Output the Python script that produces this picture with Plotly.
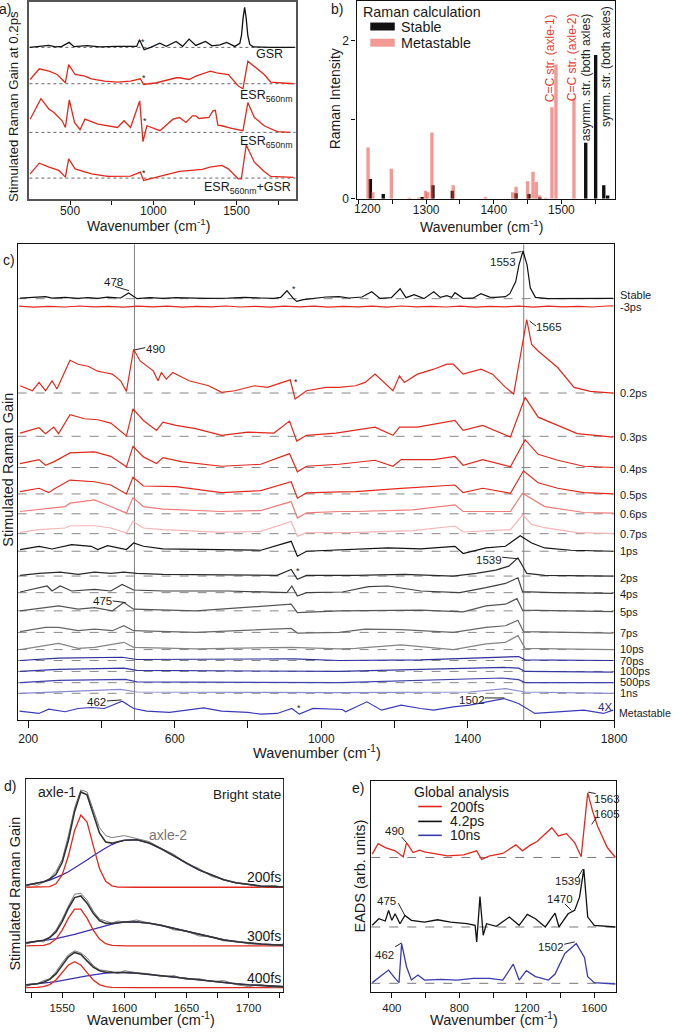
import plotly.graph_objects as go

W, H = 685, 1036
FONT = "Liberation Sans, Arial, Helvetica, sans-serif"
TXT = "#1a1a1a"
RED = "#e3281b"

# ================= DATA =================
# ---- panel a: spectra at 0.2 ps (wavenumber, gain) ----
A_NAMES = ["GSR", "ESR560nm", "ESR650nm", "ESR560nm+GSR"]
A_GSR = [(258, 0), (313, 1.3), (372, 2), (411, 0.5), (450, 1), (494, 5), (523, 0.7), (602, 1.7), (680, 0.5),
         (778, 1), (876, 0.5), (900, 1), (917, 7.7), (945, -2.3), (984, 0), (1039, 4.3), (1078, 1), (1137, 6),
         (1176, 1), (1215, 8.3), (1255, 2), (1314, 6), (1353, 1.5), (1400, 2.5), (1441, 5), (1490, 1),
         (1520, 4), (1530, 12), (1540, 30), (1549, 40.3), (1558, 30), (1568, 12), (1580, 3), (1600, 0.5),
         (1700, 0), (1850, 0)]
A_ESR560 = [(259.6, 4.3), (314.5, 15), (373.3, 12.7), (422.3, 9.3), (471.4, 1), (491, 19.3), (530, 9.3),
            (588.8, 7.7), (628, 5), (706.5, 2.7), (784.9, 1.7), (863.3, 2.7), (922, 5), (941.7, -0.7),
            (1020, 1), (1138, 6), (1157, 6), (1215, 4.3), (1255.5, 7.7), (1343.8, 12.7), (1380, 11),
            (1451.6, 9.3), (1510.4, -2.3), (1539, -5), (1568.4, 22.7), (1607.6, 17.7), (1666.5, 9.3),
            (1705.7, 1.7), (1843, 0)]
A_ESR650 = [(259.6, 13.3), (324.3, 34), (373.3, 23.3), (402.7, 20), (451.8, 11.7), (471.4, 5), (494.9, 32.7),
            (526.3, 10), (559.6, 2.7), (588.8, 13.3), (667.3, 8.3), (784.9, 5), (824.1, 11.7), (863.3, 5),
            (918.2, 31.7), (937.8, -9.3), (961.4, 6.7), (1039.8, 1.7), (1118.2, 13.3), (1157, 15),
            (1196.7, 10), (1235, 16.7), (1255.5, 16.7), (1274, 14), (1333.9, 15), (1359, 21.7), (1373, 22.3),
            (1388, 7.3), (1411.8, 6.7), (1470.6, 4), (1539, 1.7), (1568.4, 30), (1607.6, 15), (1666.5, 6.7),
            (1745, 0.7), (1823.5, 0)]
A_ESRGSR = [(259.6, 4.3), (314.5, 15), (373.3, 11), (432, 7.7), (471.4, 1), (491, 19.3), (530, 9.3),
            (628, 4.3), (726, 1.7), (863.3, 2), (922, 6), (941.7, -2.3), (1020, 1), (1157.6, 6.7),
            (1294.7, 8.7), (1340, 11), (1411.8, 12.7), (1451, 9.3), (1510.4, -0.7), (1529.2, -0.7),
            (1558.6, 33.3), (1607.6, 16), (1666.5, 6.7), (1705.7, 1.7), (1843, 0.7)]
A_OFFSETS = [152.3, 115.7, 66.7, 20.7]

# ---- panel b: calculated Raman bars ----
B_NAMES = ["Stable", "Metastable"]
B_STABLE_X = [1217.4, 1236.5, 1294, 1310, 1338.7, 1433, 1452, 1468, 1536, 1550.7, 1562.7, 1568.5]
B_STABLE_Y = [0.25, 0.06, 0.02, 0.17, 0.1, 0.07, 0.06, 0.01, 0.71, 1.82, 0.17, 0.04]
B_META_X = [1214, 1221, 1248.5, 1275, 1289, 1299, 1302, 1308.5, 1340, 1387.6, 1428, 1433, 1450, 1458,
            1463, 1468, 1477, 1486, 1492, 1518.6]
B_META_Y = [0.65, 0.08, 0.38, 0.01, 0.015, 0.1, 0.08, 0.84, 0.17, 0.02, 0.08, 0.15, 0.22, 0.34, 0.21,
            0.04, 0.01, 1.16, 1.7, 1.27]
B_MODE_LABELS = ["C=C str. (axle-1)", "C=C str. (axle-2)", "asymm. str. (both axles)", "symm. str. (both axles)"]

# ---- panel c: time-resolved stimulated Raman spectra ----
C_LABELS = ["Stable", "-3ps", "0.2ps", "0.3ps", "0.4ps", "0.5ps", "0.6ps", "0.7ps", "1ps", "2ps", "4ps",
            "5ps", "7ps", "10ps", "70ps", "100ps", "500ps", "1ns", "Metastable"]
C_STABLE = [(177.7, 0.5), (211.6, 1), (229.4, 1.7), (247.2, 2), (265, 0.5), (282.8, 1), (300.7, 1.3),
            (336.3, 0.3), (363, 1), (389.7, 0.3), (416.5, 1.5), (452.1, 0.7), (474, 5.7), (497, 0), (532, 1),
            (567.9, 0.3), (603.5, 1), (657, 0.5), (692.6, 0.2), (746.1, 0.5), (791, 1.3), (835.1, 0.7),
            (870.8, 0.3), (889, 1.3), (906.4, 8), (924.2, 0), (933.1, -2.7), (951, -1), (977.7, 0),
            (1013.3, 1.7), (1048.9, 2), (1075.6, 0.7), (1111.3, 1.7), (1138, 7), (1160.3, 0.3), (1191.5, 1),
            (1215.5, 10), (1231.6, 1), (1253.8, 4), (1280.5, 0), (1307.3, 7), (1325.1, 1.3), (1342.9, 3),
            (1356.3, 1.3), (1365.2, 6), (1387.5, 0.3), (1414, 0.5), (1436, 5), (1460, 1.5), (1476, 1.3),
            (1503, 2), (1515, 5), (1531, 17), (1540, 34), (1551, 48), (1562, 34), (1571, 10.7), (1585, 1.3),
            (1620, 0), (1700, 0.2), (1797, 0.3)]
C_M3PS = [(175, 0.5), (215, -0.5), (255, 0.3), (300, -0.4), (340, 0.6), (380, -0.3), (420, 0.2), (460, -0.6),
          (500, 0.4), (540, -0.2), (580, 0.5), (620, -0.5), (660, 0.3), (700, -0.3), (740, 0.6), (780, -0.4),
          (820, 0.2), (860, -0.5), (900, 0.4), (940, -0.3), (980, 0.5), (1020, -0.6), (1060, 0.3),
          (1100, -0.2), (1140, 0.4), (1180, -0.5), (1220, 0.6), (1260, -0.3), (1300, 0.2), (1340, -0.4),
          (1380, 0.5), (1420, -0.5), (1460, 0.3), (1500, -0.2), (1540, 0.4), (1580, -0.6), (1620, 0.5),
          (1660, -0.3), (1700, 0.2), (1740, -0.4), (1780, 0.6), (1798, 0.8)]
C_02PS = [(177.7, 7.3), (211.6, 2.3), (229.4, 10.7), (247.2, 2.3), (265, 12.3), (278.4, 4), (314, 33),
          (336.3, 29), (363, 27), (389.7, 22), (407.6, 20.7), (429.8, 19), (452.1, 12.3), (468.1, 1.7),
          (487.7, 44), (505.5, 32.3), (541.2, 22.3), (554.5, 12.3), (563.4, 20.7), (576.8, 14), (594.6, 20.7),
          (639.2, 12.3), (692.6, 7.3), (728.2, 0.7), (763.9, 2.3), (817.3, 7.3), (853, 5.7), (897.5, 11.7),
          (915.3, 13.3), (928.7, -6), (959.9, 2.3), (1013.3, 5.7), (1049, 5.7), (1093.5, 7.3), (1120, 10.7),
          (1147, 19), (1196, 2.3), (1213.7, 17.3), (1227, 10.7), (1262.7, 19), (1307.3, 24), (1343, 29),
          (1360.7, 29), (1387.5, 19), (1436.5, 24), (1467.6, 19), (1503.3, 5.7), (1525.5, -1), (1543.4, 35.7),
          (1561.2, 74), (1574.5, 49), (1592.3, 42.3), (1645.8, 25.7), (1690.3, 5.7), (1734.8, 1.7),
          (1797.2, 0)]
C_03PS = [(177.7, 3.3), (229.4, 8.7), (247.2, 2.7), (269.5, 9.3), (282.8, 2.7), (314, 21.7), (354.1, 17.7),
          (389.7, 16.7), (425.4, 13.3), (468.1, 0.3), (486, 27.7), (514.5, 16), (550.1, 6), (567.9, 14.3),
          (603.5, 11), (657, 7.7), (728.2, 1), (799.5, 4.3), (870.8, 3.3), (913.5, 15.3), (933.1, -4.7),
          (959.9, 1), (1040, 3.3), (1093.5, 6), (1146.9, 9.3), (1195.9, 1), (1213.7, 9.3), (1262.7, 9.3),
          (1307.3, 12), (1365.2, 16), (1387.5, 6), (1441, 11), (1516.7, -0.7), (1556.8, 39.3),
          (1592.4, 19.3), (1645.9, 11), (1699.3, 2.7), (1797.3, -0.7)]
C_04PS = [(177.7, 4), (229.4, 8), (247.2, 2.3), (269.5, 5.7), (314, 14.7), (380.8, 15.7), (425.4, 11.3),
          (468.1, 0.7), (486, 21.3), (514.5, 10.7), (550.1, 4), (567.9, 10), (621.3, 5.7), (728.2, 1.3),
          (835.1, 3.3), (913.5, 14), (934.9, -4.3), (959.9, 1.3), (1048.9, 3.3), (1146.9, 7.3), (1195.9, 1.3),
          (1218.2, 8), (1307.3, 8), (1365.2, 11.3), (1387.5, 2.3), (1441, 8), (1516.7, 0.7), (1556.8, 28),
          (1592.4, 13.3), (1645.9, 7.3), (1717.1, 1.3), (1797.3, 0)]
C_05PS = [(177.7, 2.3), (229.4, 5.7), (256.1, 1.3), (269.5, 4.7), (314, 14), (380.8, 12.3), (425.4, 9),
          (468.1, 0), (486, 16.7), (514.5, 8), (603.5, 7.3), (728.2, 1.3), (835.1, 3.3), (918, 12.3),
          (934.9, -4.3), (959.9, 1), (1048.9, 2), (1093.5, 2.3), (1218.2, 5.7), (1365.2, 9), (1387.5, 1.3),
          (1441, 5.7), (1516.7, 0.7), (1552.4, 23.3), (1592.4, 11.3), (1645.9, 5.7), (1717.1, 1.3),
          (1797.3, 0)]
C_06PS = [(177.7, 2.3), (229.4, 4.7), (300.7, 7.3), (314, 10.7), (380.8, 14), (425.4, 7.3), (468.1, 0.7),
          (486, 16.3), (514.5, 7.3), (567.9, 4.7), (728.2, 2.3), (835.1, 3.3), (918, 12.3), (934.9, -4.3),
          (959.9, 1), (1048.9, 2.3), (1093.5, 2.3), (1250, 4), (1365.2, 9), (1387.5, 2.3), (1516.7, 2.3),
          (1549.7, 20.7), (1610.3, 7.3), (1717.1, 1.3), (1797.3, 0.7)]
C_07PS = [(177.7, 1.3), (229.4, 4), (300.7, 5.7), (314, 8), (380.8, 8), (425.4, 5.7), (468.1, 0.7),
          (486, 12.3), (514.5, 5.7), (567.9, 4), (728.2, 1.3), (835.1, 2.3), (918, 12.3), (934.9, -2.7),
          (959.9, 1), (1048.9, 1.3), (1093.5, 1.3), (1250, 3), (1365.2, 7.7), (1387.5, 1.7), (1516.7, 4),
          (1549.7, 19), (1574.6, 9.3), (1610.3, 6), (1699.3, 1), (1797.3, 0)]
C_1PS = [(177.7, 1.7), (229.4, 5), (265, 2.3), (318.5, 6.7), (371.9, 5), (389.7, 1.7), (416.5, 5.7),
         (468.1, 1.7), (487.7, 8.3), (514.5, 5), (567.9, 2.3), (657, 1.7), (835.1, 1), (918, 10), (934.9, -5),
         (959.9, 0), (1057.8, 1.7), (1182.6, 3.3), (1271.6, 2.3), (1365.2, 5), (1387.5, -2.3), (1449.9, 3.3),
         (1503.3, 5), (1543.4, 15.7), (1574.6, 8.3), (1610.3, 3.3), (1681.5, 1), (1797.3, 0)]
C_2PS = [(177.7, 0.7), (229.4, 2.7), (287.3, 4), (336.3, 1.7), (380.8, 4), (425.4, 2.7), (461, 4),
         (496.6, 2.7), (567.9, 1.7), (746.1, 0.7), (879.7, 0.7), (918, 6.7), (934.9, -3.3), (959.9, 0.7),
         (1093.5, 0.7), (1227.1, 1.7), (1360.7, 0), (1423.1, 2.7), (1476.6, 6), (1512.2, 10), (1537.2, 18.3),
         (1561.3, 2.7), (1610.3, 0.7), (1797.3, 0)]
C_4PS = [(177.7, 0.7), (251.7, 6.7), (265, 1.7), (287.3, 6.7), (318.5, 1.7), (380.8, 3.3), (425.4, 1.7),
         (456.5, 8.3), (487.7, 2.7), (567.9, 1.7), (746.1, 1.7), (906.4, 0), (919.8, 6.7), (934.9, -3.3),
         (959.9, 0), (1057.8, 0.7), (1129.1, 6), (1182.6, 6.7), (1271.6, 1.7), (1378.6, 0), (1449.9, 5),
         (1503.3, 9.3), (1537.2, 15), (1549.7, 1), (1632, 0), (1797.3, -0.7)]
C_5PS = [(177.7, 0), (247.2, 3.3), (282.8, 5), (336.3, 1.7), (380.8, 3.3), (429.8, 0), (461, 8.3),
         (487.7, 1.7), (657, 0), (918, 6.7), (934.9, -1.7), (1048.9, 0), (1271.6, 0.7), (1387.5, -1),
         (1449.9, 5), (1503.3, 6.7), (1534.5, 12.3), (1549.7, 0.7), (1797.3, -0.7)]
C_7PS = [(177.7, 0.7), (247.2, 5), (282.8, 5), (336.3, 1.7), (380.8, 3.3), (429.8, 1.7), (461, 6.7),
         (487.7, 1.7), (657, 0), (918, 4), (934.9, -0.7), (1048.9, 0), (1120.2, 3.3), (1218.2, 2.7),
         (1360.7, 0), (1449.9, 5), (1503.3, 6.7), (1537.2, 12.3), (1552.4, 0.7), (1797.3, -0.7)]
C_10PS = [(177.7, 0), (282.8, 6.3), (336.3, 1.3), (380.8, 2.3), (461, 7.3), (487.7, 2.3), (657, 0.7),
          (918, 2.3), (1048.9, 0.7), (1093.5, 1.3), (1218.2, 4.7), (1360.7, 0), (1449.9, 5.7), (1503.3, 7.3),
          (1537.2, 14), (1556.8, 1.3), (1797.3, 0)]
C_70PS = [(177.7, 0), (282.8, 2.3), (456.5, 3.3), (496.6, 1), (924.2, 1.7), (1048.9, 0), (1271.6, 0.7),
          (1503.3, 3.3), (1539, 4), (1556.8, 0.7), (1797.3, 0)]
C_100PS = [(177.7, 0), (282.8, 2), (461, 3.3), (496.6, 1), (1048.9, 0), (1498.8, 4), (1539, 3.3),
           (1556.8, 0), (1797.3, -0.7)]
C_500PS = [(177.7, 0), (282.8, 2.3), (465.5, 3.3), (496.6, 0.7), (1048.9, 0), (1494.4, 4.7), (1539, 3),
           (1556.8, 0), (1797.3, 0)]
C_1NS = [(177.7, 0), (452.1, 4), (496.6, 1.3), (1048.9, 0.7), (1405.3, 1.3), (1503.3, 4.7), (1556.8, 1.3),
         (1797.3, 0)]
C_META = [(176, 3.3), (229, 1), (256, 5.3), (300.7, 2.7), (336, 6), (372, 7), (407.6, 6), (429.8, 9.3),
          (456.5, 13.3), (487.7, 6), (523.4, 3.3), (585.7, 2), (639.2, 4.3), (679.2, 6.7), (728.2, 3.3),
          (799.5, 2), (835, 0.3), (879.7, 1), (919.8, 6), (940.2, 0.3), (977.7, 6), (1057.8, 5),
          (1066.7, 2.7), (1124.7, 12.7), (1164.7, 4.3), (1218.2, 9.3), (1271.6, 6), (1307.3, 4.3),
          (1360.7, 7.7), (1405.3, 9.3), (1498.8, 16), (1538.9, 11), (1583.5, 1), (1645.8, 2.7),
          (1717.1, 4.3), (1770.5, 1), (1797.2, 4.3)]
C_SERIES = [C_STABLE, C_M3PS, C_02PS, C_03PS, C_04PS, C_05PS, C_06PS, C_07PS, C_1PS, C_2PS, C_4PS,
            C_5PS, C_7PS, C_10PS, C_70PS, C_100PS, C_500PS, C_1NS, C_META]
C_OFFSETS = [424.3, 416.3, 329.3, 285.7, 254.3, 227.7, 207.7, 187.7, 170, 145, 128.3, 110, 88.3, 71, 60,
             49, 37.7, 27, 5.7]
C_PEAK_LINES = [490, 1553]

# ---- panel d: bright-state fits ----
D_LABELS = ["200fs", "300fs", "400fs"]
D_W = [1521, 1525, 1530, 1535, 1540, 1545, 1550, 1555, 1560, 1565, 1570, 1575, 1580, 1585, 1590, 1595, 1600,
       1610, 1620, 1630, 1640, 1650, 1660, 1670, 1680, 1690, 1700, 1710, 1720, 1728]
D_RED = [
    [0, 0, 0, 0.1, 0.7, 3.5, 12.5, 31.7, 57.1, 72.8, 65.6, 41.9, 18.9, 6, 1.4, 0.2, 0, 0, 0, 0, 0, 0, 0, 0, 0, 0, 0, 0, 0, 0],
    [0, 0, 0.1, 0.5, 2.2, 6.8, 15.8, 27.9, 37, 37, 27.9, 15.8, 6.8, 2.2, 0.5, 0.1, 0, 0, 0, 0, 0, 0, 0, 0, 0, 0, 0, 0, 0, 0],
    [0, 0, 0.2, 0.9, 3, 7.7, 15.1, 22.7, 26, 22.7, 15.1, 7.7, 3, 0.9, 0.2, 0, 0, 0, 0, 0, 0, 0, 0, 0, 0, 0, 0, 0, 0, 0]]
D_BLUE = [
    [2.1, 2.9, 3.9, 5.4, 7.3, 9.6, 12.4, 15.6, 19.3, 23.2, 27.4, 31.7, 35.8, 39.5, 43, 45.7, 47.3, 47.9, 44.5, 38.5, 31.5, 24, 17.5, 12.5, 7.5, 4.5, 2.5, 1.2, 0.6, 0.3],
    [3, 3.6, 4.3, 5.2, 6.2, 7.3, 8.6, 10, 11.6, 13.3, 15.1, 16.9, 18.7, 20.4, 22, 23.2, 24, 24, 22.8, 20.5, 17.6, 14.4, 11.2, 8.4, 6, 4.2, 2.8, 1.8, 1.1, 0.7],
    [2.7, 3.1, 3.7, 4.4, 5.2, 6.1, 7.1, 8.2, 9.4, 10.6, 11.8, 12.9, 13.9, 14.6, 15.1, 15.3, 15.2, 14.5, 13.4, 12, 10.6, 9.2, 7.7, 6.3, 5, 3.8, 2.8, 2, 1.4, 1]]
D_FIT = [
    [2.1, 2.9, 3.9, 5.5, 8, 13.1, 24.9, 47.3, 76.4, 96, 93, 73.6, 54.7, 45.5, 44.4, 45.9, 47.3, 47.9, 44.5, 38.5, 31.5, 24, 17.5, 12.5, 7.5, 4.5, 2.5, 1.2, 0.6, 0.3],
    [3, 3.6, 4.4, 5.7, 8.4, 14.1, 24.4, 37.9, 48.6, 50.3, 43, 32.7, 25.5, 22.6, 22.5, 23.3, 24, 24, 22.8, 20.5, 17.6, 14.4, 11.2, 8.4, 6, 4.2, 2.8, 1.8, 1.1, 0.7],
    [2.7, 3.1, 3.9, 5.3, 8.2, 13.8, 22.2, 30.9, 35.4, 33.3, 26.9, 20.6, 16.9, 15.5, 15.3, 15.3, 15.2, 14.5, 13.4, 12, 10.6, 9.2, 7.7, 6.3, 5, 3.8, 2.8, 2, 1.4, 1]]
D_DATA = [
    [1, 3, 2, 5, 9, 16, 28, 52, 80, 98, 96, 78, 60, 52, 50, 51, 52, 49, 46, 39, 33, 24, 19, 11, 8, 4, 3, 0, 2, 0],
    [2, 3, 5, 4, 9, 16, 27, 40, 52, 53, 46, 35, 27, 25, 23, 25, 24, 26, 23, 21, 16, 15, 10, 9, 5, 5, 2, 2, 0, 2],
    [1, 3, 4, 7, 9, 16, 25, 33, 37, 35, 30, 22, 18, 17, 16, 14, 17, 15, 14, 11, 12, 8, 9, 6, 7, 3, 1, 3, 0, 1]]
D_OFFSETS = [105, 46, 4]

# ---- panel e: global analysis EADS ----
E_NAMES = ["200fs", "4.2ps", "10ns"]
E_200FS = [(284, 3.3), (318.7, 14), (361.3, 10), (419.3, 6.7), (467.7, 0.7), (487, 15), (525.7, 5),
           (564.4, 7.3), (593.4, 5.7), (651.4, 4), (728.8, 1.7), (825.5, 2.7), (902.9, 6.7), (931.9, -2),
           (980.3, 1.7), (1057.7, 4), (1135.1, 12.7), (1173.8, 6.7), (1222.2, 12.7), (1260.9, 16),
           (1309.2, 23.3), (1347.9, 30), (1386.6, 21.7), (1435, 24), (1483.4, 15), (1522.1, 0.7),
           (1560.8, 65), (1589.8, 46.7), (1618.8, 31.7), (1676.9, 10), (1725.2, 0)]
E_42PS = [(284, 1.7), (322.7, 8.3), (361.3, 6), (380.7, 16.7), (400, 6.7), (419.3, 13.3), (448.3, 3.3),
          (477.4, 11.7), (516.1, 6.7), (593.4, 5), (670.8, 7.3), (748.2, 5), (844.9, 3.3), (893.3, 1.7),
          (902.9, -15), (922.3, 30.7), (941.6, -8.3), (961, 3.3), (1019, 0.7), (1096.4, 10), (1154.4, 1.7),
          (1202.8, 12.7), (1251.2, 8.3), (1309.2, 0), (1367.3, 14), (1390.5, 0), (1444.7, 13.3),
          (1483.4, 16.7), (1512.4, 30), (1537.6, 58.3), (1560.8, 10), (1599.5, 1.7), (1725.2, 0)]
E_10NS = [(284, 0.7), (342, 8.3), (380.7, 13.3), (419.3, 5), (442.5, 0.7), (458, 40), (487, 16.7),
          (516.1, 3.3), (554.8, 8.3), (593.4, 3.3), (690.2, 4), (786.9, 3.3), (883.6, 5), (980.3, 5),
          (1057.7, 3.3), (1119.6, 19.3), (1154.4, 3.3), (1197, 12.7), (1251.2, 6.7), (1328.5, 3.3),
          (1367.3, 9.3), (1425.3, 30), (1493, 40), (1541.4, 26), (1560.8, 6.7), (1599.5, 0.7), (1725.2, -0.7)]
E_SERIES = [E_200FS, E_42PS, E_10NS]
E_OFFSETS = [135, 65, 8.3]

# ================= STYLE / LAYOUT =================
A_COLORS = ["#111111", RED, RED, RED]
B_COLORS = ["#111111", "rgba(232,70,60,0.55)"]
C_COLORS = ["#111111", RED, RED, RED, RED, RED, "#f07b78", "#f7b5b5", "#111111", "#2a2a2a", "#404040",
            "#555555", "#666666", "#858585", "#2e2e99", "#3636a3", "#3f3fad", "#8a8ad0", "#3a3ab8"]
C_LABEL_PY = [297, 309, 395.7, 440, 472, 498, 517.7, 538, 555, 581.7, 598, 615.7, 637, 653, 665, 676, 687,
              698, 717.7]
E_COLORS = [RED, "#111111", "#3b3bb0"]


def xd(a, b):
    return [a / W, b / W]


def yd(top, bottom):
    return [1 - bottom / H, 1 - top / H]


def px(x):
    return x / W


def py(y):
    return 1 - y / H


fig = go.Figure()


def add(series, offset, color, xa, ya, width=1.2, name=None):
    xs = [p[0] for p in series]
    ys = [p[1] + offset for p in series]
    fig.add_trace(go.Scatter(x=xs, y=ys, mode="lines", xaxis=xa, yaxis=ya,
                             line=dict(color=color, width=width),
                             name=name, showlegend=False, hoverinfo="skip"))


# panel a
for s, off, col, nm in zip([A_GSR, A_ESR560, A_ESR650, A_ESRGSR], A_OFFSETS, A_COLORS, A_NAMES):
    add(s, off, col, "x", "y", 1.3, nm)

# panel b bars
for xs, ys, col, nm in zip([B_STABLE_X, B_META_X], [B_STABLE_Y, B_META_Y], B_COLORS, B_NAMES):
    fig.add_trace(go.Bar(x=xs, y=ys, width=5, marker=dict(color=col, line=dict(width=0)),
                         xaxis="x2", yaxis="y2", name=nm, showlegend=False, hoverinfo="skip"))

# panel c
for s, off, col, nm in zip(C_SERIES, C_OFFSETS, C_COLORS, C_LABELS):
    add(s, off, col, "x3", "y3", 1.2, nm)

# panel d
for i in range(3):
    off = D_OFFSETS[i]
    add(list(zip(D_W, D_BLUE[i])), off, "#3a2fb5", "x4", "y4", 1.3)
    add(list(zip(D_W, D_RED[i])), off, RED, "x4", "y4", 1.3)
    add(list(zip(D_W, D_DATA[i])), off, "#7a7a7a", "x4", "y4", 1.0)
    add(list(zip(D_W, D_FIT[i])), off, "#333333", "x4", "y4", 1.6, D_LABELS[i])

# panel e
for s, off, col, nm in zip(E_SERIES, E_OFFSETS, E_COLORS, E_NAMES):
    add(s, off, col, "x5", "y5", 1.3, nm)

# ---- shapes ----
shapes = []
for off in A_OFFSETS:
    shapes.append(dict(type="line", xref="x domain", yref="y", x0=0, x1=1, y0=off, y1=off,
                       line=dict(color="#666", width=1, dash="dot"), layer="below"))
for lab, off in zip(C_LABELS, C_OFFSETS):
    if lab in ("-3ps", "Metastable"):
        continue
    shapes.append(dict(type="line", xref="x3 domain", yref="y3", x0=0, x1=1, y0=off, y1=off,
                       line=dict(color="#888", width=1, dash="dash"), layer="below"))
for v in C_PEAK_LINES:
    shapes.append(dict(type="line", xref="x3", yref="y3 domain", x0=v, x1=v, y0=0, y1=1,
                       line=dict(color="#808080", width=1), layer="below"))
for off in E_OFFSETS:
    shapes.append(dict(type="line", xref="x5 domain", yref="y5", x0=0, x1=1, y0=off, y1=off,
                       line=dict(color="#777", width=1, dash="dash"), layer="below"))

LEADERS = [((117.3, 288.3), (131.7, 292.7)), ((137.3, 352.3), (148.3, 350)), ((521.7, 255), (532.3, 253.3)),
           ((540.7, 323.3), (547.3, 328.3)), ((115, 605), (128.3, 606.7)), ((109.3, 705.7), (124, 704.7)),
           ((512.7, 561), (529.3, 562.7)), ((495, 702.7), (515, 702.7)),
           ((410, 842.7), (415, 848.3)), ((600.5, 797.5), (608, 799)), ((609, 823), (604, 830)),
           ((590, 883.3), (595, 875)), ((576.7, 910), (583.3, 916.7)), ((406.7, 909.3), (413.3, 921.7)),
           ((403.3, 953.3), (410, 949.3)), ((576, 950.7), (586.7, 948.3))]
for (x0, y0), (x1, y1) in LEADERS:
    shapes.append(dict(type="line", xref="paper", yref="paper", x0=px(x0), y0=py(y0), x1=px(x1), y1=py(y1),
                       line=dict(color="#222", width=1)))

# legend swatches (panel b: bars, panel e: lines)
for col, (t, b) in zip(B_COLORS, [(22.7, 30.7), (39, 47)]):
    shapes.append(dict(type="rect", xref="paper", yref="paper", x0=px(378), x1=px(403), y0=py(b), y1=py(t),
                       fillcolor=col, line=dict(width=0)))
E_LEG_PY = [812, 827, 841]
for col, yy in zip(E_COLORS, E_LEG_PY):
    shapes.append(dict(type="line", xref="paper", yref="paper", x0=px(427), x1=px(451), y0=py(yy), y1=py(yy),
                       line=dict(color=col, width=1.6)))


# ---- annotations ----
def ann(text, x, y, size=12, color=TXT, xanchor="center", angle=0):
    return dict(text=text, x=px(x), y=py(y), xref="paper", yref="paper", showarrow=False,
                font=dict(family=FONT, size=size, color=color), xanchor=xanchor, yanchor="middle",
                textangle=angle)


WN = "Wavenumber (cm<sup>-1</sup>)"
anns = [
    ann("a)", 5, 9, 14), ann("b)", 344, 9, 14), ann("c)", 9, 262, 14), ann("d)", 10, 791, 14), ann("e)", 365, 793, 14),
    ann("Stimulated Raman Gain at 0.2ps", 14, 107, 13.2, angle=-90),
    ann(WN, 152, 227, 14), ann(WN, 492, 228, 14), ann(WN, 324, 757, 14.5),
    ann(WN, 154, 1026, 14.5), ann(WN, 504, 1026, 14.5),
    ann("Raman Intensity", 342, 100, 14, angle=-90),
    ann("Stimulated Raman Gain", 8, 473, 14.5, angle=-90),
    ann("Stimulated Raman Gain", 15, 900, 14.5, angle=-90),
    ann("EADS (arb. units)", 368, 882, 14.5, angle=-90),
    # panel a labels
    ann("GSR", 291, 54.5, 12.5, xanchor="right"),
    ann("ESR<sub>560nm</sub>", 300.5, 97, 12.5, xanchor="right"),
    ann("ESR<sub>650nm</sub>", 300.5, 143, 12.5, xanchor="right"),
    ann("ESR<sub>560nm</sub>+GSR", 299.5, 189, 12.5, xanchor="right"),
    ann("*", 146, 42, 9), ann("*", 147, 79, 9), ann("*", 148.5, 122, 9), ann("*", 147, 174.5, 9),
    # panel b: first x tick label sits right of its tick, clear of the "0"
    ann("1200", 375, 210.5, 12),
    # panel b legend
    ann("Raman calculation", 369, 11.7, 14.3, xanchor="left"),
    ann(B_NAMES[0], 407, 26.7, 14.3, xanchor="left"),
    ann(B_NAMES[1], 407, 43, 14.3, xanchor="left"),
    # panel b mode labels
    ann(B_MODE_LABELS[0], 561, 59, 12, color="#e8392f", angle=-90),
    ann(B_MODE_LABELS[1], 584, 57.5, 12, color="#e8392f", angle=-90),
    ann(B_MODE_LABELS[2], 599, 78, 12, color=TXT, angle=-90),
    ann(B_MODE_LABELS[3], 618, 67, 12, color=TXT, angle=-90),
    # panel c peak labels
    ann("478", 116, 283.5, 11.5), ann("490", 159, 351, 11.5), ann("1553", 514, 263.5, 11.5),
    ann("1565", 560.5, 329, 11.5), ann("475", 105, 605.3, 11.5), ann("462", 99, 707, 11.5),
    ann("1539", 499, 563.7, 11.5), ann("1502", 482, 704.7, 11.5),
    ann("4X", 617.5, 711.7, 11.5, color="#2a2a80"),
    ann("*", 300, 291, 9), ann("*", 302, 385, 9), ann("*", 304, 575, 9), ann("*", 305, 712.5, 9),
    # panel d labels
    ann("axle-1", 58, 797, 14), ann("axle-2", 172, 841, 14, color="#777"),
    ann("Bright state", 252, 800, 13.5),
    # panel e legend + labels
    ann("Global analysis", 421, 797, 14, xanchor="left"),
    ann("490", 403, 837, 11.5), ann("1563", 619.5, 804, 11.5), ann("1605", 620, 820, 11.5),
    ann("1539", 580, 887, 11.5), ann("1470", 572, 904.7, 11.5), ann("475", 395, 906.7, 11.5),
    ann("462", 393, 961.7, 11.5), ann("1502", 563, 953.3, 11.5),
]
for nm, yy in zip(E_NAMES, E_LEG_PY):
    anns.append(ann(nm, 457, yy, 14, xanchor="left"))
for lab, yy in zip(C_LABELS, C_LABEL_PY):
    if lab == "Metastable":
        anns.append(ann(lab, 629.5, yy, 10.6, xanchor="left"))
    else:
        anns.append(ann(lab, 631, yy, 11, xanchor="left"))
for lab, yy in zip(D_LABELS, [883, 942.7, 985]):
    anns.append(ann(lab, 289, yy, 14, xanchor="right"))

AX = dict(showgrid=False, zeroline=False, showline=True, mirror=True, linecolor="#111", linewidth=1.4,
          ticks="outside", tickcolor="#111", tickwidth=1, tickfont=dict(family=FONT, size=12, color=TXT))
NOY = dict(AX, ticks="", showticklabels=False)


def ticks(vals, shown):
    return dict(tickmode="array", tickvals=vals,
                ticktext=[str(v) if v in shown else " " for v in vals])


fig.update_layout(
    width=W, height=H, autosize=False, margin=dict(l=0, r=0, t=0, b=0),
    paper_bgcolor="white", plot_bgcolor="white", barmode="overlay", showlegend=False,
    font=dict(family=FONT, color=TXT),
    xaxis=dict(AX, domain=xd(30, 301.7), range=[255, 1855], anchor="y", ticklen=4, linecolor="#555",
               linewidth=2, ticklabelstandoff=-4,
               **ticks([500, 750, 1000, 1250, 1500, 1750], [500, 1000, 1500])),
    yaxis=dict(NOY, domain=yd(1.7, 200), range=[0, 198.3], anchor="x", linecolor="#555", linewidth=2),
    xaxis2=dict(AX, domain=xd(364, 628.3), range=[1197, 1580], anchor="y2", ticklen=4, ticklabelstandoff=-4,
                **ticks([1200, 1250, 1300, 1350, 1400, 1450, 1500, 1550], [1300, 1400, 1500])),
    yaxis2=dict(AX, domain=yd(1.5, 200), range=[0, 2.5], anchor="x2", ticklen=4,
                tickmode="array", tickvals=[0, 1, 2], ticktext=["0", " ", "2"]),
    xaxis3=dict(AX, domain=xd(18, 627), range=[171, 1800], anchor="y3", ticklen=7,
                **ticks([200, 400, 600, 800, 1000, 1200, 1400, 1600, 1800], [200, 600, 1000, 1400, 1800])),
    yaxis3=dict(NOY, domain=yd(246, 725), range=[0, 479], anchor="x3"),
    xaxis4=dict(AX, domain=xd(26.7, 289.3), range=[1521, 1728], anchor="y4", ticklen=5,
                tickfont=dict(family=FONT, size=11.5, color=TXT),
                **ticks([1525, 1550, 1575, 1600, 1625, 1650, 1675, 1700, 1725], [1550, 1600, 1650, 1700])),
    yaxis4=dict(NOY, domain=yd(784, 998.3), range=[0, 214.3], anchor="x4", linecolor="#333"),
    xaxis5=dict(AX, domain=xd(379, 629.3), range=[278, 1731], anchor="y5", ticklen=5,
                tickfont=dict(family=FONT, size=11.5, color=TXT),
                **ticks([400, 600, 800, 1000, 1200, 1400, 1600], [400, 800, 1200, 1600])),
    yaxis5=dict(NOY, domain=yd(786.7, 998.3), range=[0, 211.6], anchor="x5"),
    shapes=shapes, annotations=anns,
)

fig.write_html("out.html", config={"displayModeBar": False},
               post_script="document.body.style.margin='0';document.body.style.overflow='hidden';")
